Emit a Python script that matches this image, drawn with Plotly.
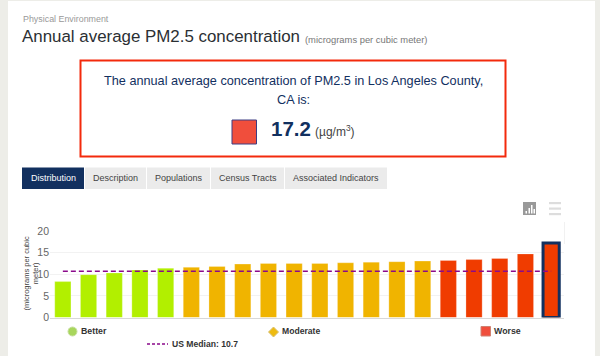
import plotly.graph_objects as go

W, H = 600, 356
categories = [f"Tract {i}" for i in range(1, 21)]
values = [8.3, 9.9, 10.3, 11.0, 11.4, 11.6, 11.8, 12.35, 12.5, 12.5,
          12.5, 12.65, 12.8, 12.9, 13.05, 13.2, 13.4, 13.65, 14.7, 17.2]
groups = ["Better"] * 5 + ["Moderate"] * 10 + ["Worse"] * 5
colors_by_group = {"Better": "#B2EF00", "Moderate": "#F0B400", "Worse": "#F03C00"}
us_median = 10.7
y_ticks = [0, 5, 10, 15, 20]
tabs = ["Distribution", "Description", "Populations", "Census Tracts", "Associated Indicators"]
tab_edges = [(22, 84), (85, 146), (147, 210), (211, 284), (285, 387)]

NAVY = "#12305F"
FONT = "Liberation Sans"


def px(x):
    return x / W


def py(y):
    return 1 - y / H


shapes = []
ann = []


def rect(x0, y0, x1, y1, fill="rgba(0,0,0,0)", line=None, lw=0, layer="below"):
    shapes.append(dict(type="rect", xref="paper", yref="paper", x0=px(x0), x1=px(x1),
                       y0=py(y1), y1=py(y0), fillcolor=fill, layer=layer,
                       line=dict(color=line or fill, width=lw)))


def text(x, y, s, size, color, anchor="left", **kw):
    ann.append(dict(xref="paper", yref="paper", x=px(x), y=py(y), text=s, showarrow=False,
                    xanchor=anchor, yanchor="middle", align="center" if anchor == "center" else anchor,
                    borderpad=0,
                    font=dict(family=FONT, size=size, color=color), **kw))


# page frame
rect(0, 0, 8, H, fill="#EDEDE8")
rect(595, 0, W, H, fill="#EDEDE8")
rect(0, 0, W, 1, fill="#EDEDE8")

# header
text(22, 18.5, "Physical Environment", 8.9, "#999999")
text(21, 36.5, "Annual average PM2.5 concentration", 16.9, "#2b2f33")
text(304, 39, "(micrograms per cubic meter)", 9.4, "#777777")

# callout
rect(80.5, 60.5, 505.5, 156.5, line="#F32A0C", lw=2)
text(293.5, 81.5, "The annual average concentration of PM2.5 in Los Angeles County,", 12.7, NAVY, "center")
text(293.5, 100.5, "CA is:", 12.7, NAVY, "center")
rect(232, 120, 256.5, 144, fill="#F04E3C", line="#3C3C82", lw=1)
text(270, 128.5, "<b>17.2</b>", 20.5, NAVY)
text(314, 131, "(µg/m<sup>3</sup>)", 12, "#444444")

# tabs
for t, (a, b) in zip(tabs, tab_edges):
    active = t == tabs[0]
    rect(a, 167.5, b, 189, fill=NAVY if active else "#EBEBEB")
    text((a + b) / 2, 178, t, 9, "white" if active else "#444444", "center")

# toolbar icons
rect(523, 202, 536, 215, fill="#999999")
for x0, y0 in [(525.5, 211), (528.5, 208), (531, 205), (533.5, 209)]:
    rect(x0, y0, x0 + 1.5, 213.5, fill="white", layer="above")
for y0 in [202, 207.5, 213]:
    rect(549, y0, 561, y0 + 2.2, fill="#DDDDDD")
rect(564, 222, 564.8, 244, fill="#EEEEEE")

# legend keys
shapes.append(dict(type="circle", xref="paper", yref="paper", x0=px(68), x1=px(77), y0=py(336), y1=py(327),
                   fillcolor="#A8D65C", line=dict(color="#C8E0A0", width=1)))
text(80, 330.5, "<b>Better</b>", 8.8, "#333333")
shapes.append(dict(type="path", xref="paper", yref="paper",
                   path=f"M {px(268.5)} {py(332)} L {px(273.5)} {py(327)} L {px(278.5)} {py(332)} L {px(273.5)} {py(337)} Z",
                   fillcolor="#EEBB11", line=dict(color="#D8C070", width=1)))
text(280.5, 330.5, "<b>Moderate</b>", 8.6, "#333333")
rect(481, 326.5, 490.5, 336, fill="#F04E3C", line="#D08070", lw=1)
text(493, 330.5, "<b>Worse</b>", 8.8, "#333333")
shapes.append(dict(type="line", xref="paper", yref="paper", x0=px(147), x1=px(168), y0=py(344), y1=py(344),
                   line=dict(color="#8B0A8B", width=1.5, dash="3px 2px")))
text(171, 343.5, "<b>US Median: 10.7</b>", 8.6, "#333333")

# y axis title
text(30.5, 274, "(micrograms per cubic<br>meter)", 7.5, "#444444", "center", textangle=-90)

bar_colors = [colors_by_group[g] for g in groups]
line_colors = ["rgba(255,255,255,0.25)"] * 19 + [NAVY]
line_widths = [1] * 19 + [3]

fig = go.Figure()
fig.add_bar(x=categories, y=values, marker=dict(color=bar_colors, line=dict(color=line_colors, width=line_widths)),
            width=0.63, showlegend=False)
fig.add_scatter(x=categories, y=[us_median] * len(categories), mode="lines",
                line=dict(color="#8B0A8B", width=1.5, dash="5px 3px"), showlegend=False)

plot_l, plot_r, plot_t, plot_b = 50, 564, 231, 317.5
fig.update_layout(
    width=W, height=H, autosize=False,
    margin=dict(l=0, r=0, t=0, b=0, pad=0, autoexpand=False),
    paper_bgcolor="white", plot_bgcolor="white",
    bargap=0.36, shapes=shapes, annotations=ann,
    xaxis=dict(domain=[px(plot_l), px(plot_r)], showticklabels=False, showgrid=False, ticks="",
               linecolor="#D8D8D8", linewidth=1, zeroline=False, showline=True),
    yaxis=dict(domain=[py(plot_b), py(plot_t)], range=[0, 20], tickvals=y_ticks, gridcolor="#F2F2F2",
               zeroline=False, showline=False, ticks="",
               tickfont=dict(family=FONT, size=10.5, color="#666666")),
)
fig.write_html("out.html", config=dict(displayModeBar=False, responsive=False),
               post_script="document.body.style.margin='0';document.documentElement.style.overflow='hidden';")
